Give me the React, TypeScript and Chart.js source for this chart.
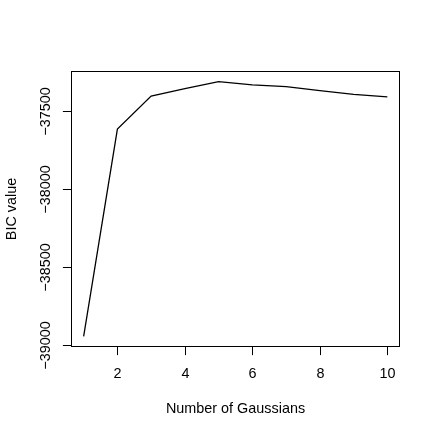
import React, { useEffect, useRef } from "react";
import { Chart, registerables } from "chart.js";

Chart.register(...registerables);

const numGaussians = [1, 2, 3, 4, 5, 6, 7, 8, 9, 10];
const bicValues = [-38947, -37615, -37402, -37355, -37310, -37330, -37342, -37368, -37391, -37408];
const xTicks = [2, 4, 6, 8, 10];
const yTicks = [-39000, -38500, -38000, -37500];
const xTitle = "Number of Gaussians";
const yTitle = "BIC value";

const FONT = "14.4px 'Liberation Sans', Arial, Helvetica, sans-serif";

function fmt(v: number) {
  return v < 0 ? "\u2212" + String(Math.abs(v)) : String(v);
}

const rBasePlot = {
  id: "rBasePlot",
  afterDraw(chart: any) {
    const ctx = chart.ctx;
    const { left, right, top, bottom } = chart.chartArea;
    const xs = chart.scales.x;
    const ys = chart.scales.y;
    ctx.save();
    ctx.strokeStyle = "#000";
    ctx.fillStyle = "#000";
    ctx.lineWidth = 1;
    ctx.strokeRect(left, top, right - left, bottom - top);
    const tl = 8.6;
    ctx.font = FONT;
    // x axis
    ctx.textAlign = "center";
    ctx.textBaseline = "middle";
    xTicks.forEach((t) => {
      const px = Math.round(xs.getPixelForValue(t)) + 0.5;
      ctx.beginPath();
      ctx.moveTo(px, bottom);
      ctx.lineTo(px, bottom + tl);
      ctx.stroke();
      ctx.fillText(String(t), px, 374);
    });
    ctx.fillText(xTitle, (left + right) / 2, 409);
    // y axis
    yTicks.forEach((t) => {
      const py = Math.round(ys.getPixelForValue(t)) + 0.5;
      ctx.beginPath();
      ctx.moveTo(left, py);
      ctx.lineTo(left - tl, py);
      ctx.stroke();
      ctx.save();
      ctx.translate(46, py);
      ctx.rotate(-Math.PI / 2);
      ctx.fillText(fmt(t), 0, 0);
      ctx.restore();
    });
    ctx.save();
    ctx.translate(12, (top + bottom) / 2);
    ctx.rotate(-Math.PI / 2);
    ctx.fillText(yTitle, 0, 0);
    ctx.restore();
    ctx.restore();
  },
};

export default function App() {
  const ref = useRef<HTMLCanvasElement | null>(null);
  useEffect(() => {
    if (!ref.current) return;
    const xmin = Math.min(...numGaussians);
    const xmax = Math.max(...numGaussians);
    const ymin = Math.min(...bicValues);
    const ymax = Math.max(...bicValues);
    const xr = xmax - xmin;
    const yr = ymax - ymin;
    const chart = new Chart(ref.current, {
      type: "line",
      data: {
        datasets: [
          {
            data: numGaussians.map((x, i) => ({ x, y: bicValues[i] })),
            borderColor: "#000",
            borderWidth: 1.3,
            pointRadius: 0,
            tension: 0,
            fill: false,
          },
        ],
      },
      options: {
        animation: false,
        responsive: false,
        devicePixelRatio: 1,
        layout: { padding: { left: 71.5, top: 71.5, right: 36.5, bottom: 89.5 } },
        plugins: { legend: { display: false }, tooltip: { enabled: false }, title: { display: false } },
        scales: {
          x: { type: "linear", display: false, min: xmin - 0.04 * xr, max: xmax + 0.04 * xr },
          y: { type: "linear", display: false, min: ymin - 0.04 * yr, max: ymax + 0.04 * yr },
        },
      },
      plugins: [rBasePlot],
    });
    return () => chart.destroy();
  }, []);
  return (
    <div style={{ position: "fixed", left: 0, top: 0, width: 436, height: 436, background: "#fff" }}>
      <canvas ref={ref} width={436} height={436} style={{ width: 436, height: 436 }} />
    </div>
  );
}
